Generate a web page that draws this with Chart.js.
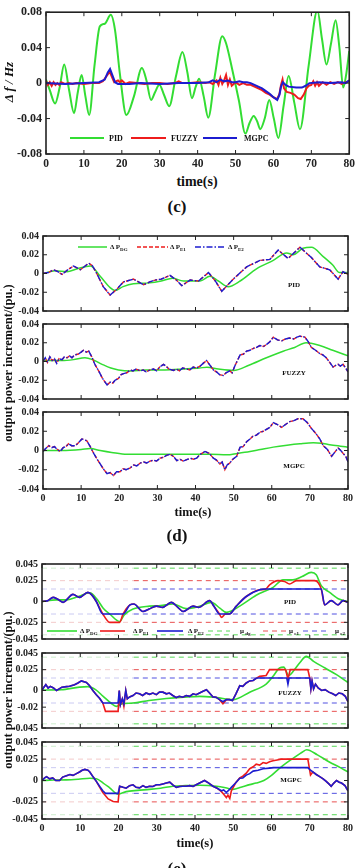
<!DOCTYPE html>
<html>
<head>
<meta charset="utf-8">
<script src="https://cdn.jsdelivr.net/npm/chart.js@4.4.0/dist/chart.umd.min.js"></script>
<style>
body { margin: 0; background: #fff; width: 358px; height: 868px; overflow: hidden; position: relative; font-family: 'Liberation Serif', serif; font-weight: bold; color: #111; }
canvas { position: absolute; left: 0; }
.t { position: absolute; transform: translate(-50%, -50%); white-space: nowrap; }
.l { position: absolute; transform: translateY(-50%); white-space: nowrap; font-size: 7px; }
.v { position: absolute; transform: translate(-50%, -50%) rotate(-90deg); white-space: nowrap; }
sub { font-size: 5px; vertical-align: -2px; }
svg { position: absolute; left: 0; top: 0; }
</style>
</head>
<body>
<canvas id="c1"></canvas>
<canvas id="d1"></canvas>
<canvas id="d2"></canvas>
<canvas id="d3"></canvas>
<canvas id="e1"></canvas>
<canvas id="e2"></canvas>
<canvas id="e3"></canvas>

<div class="v" style="left:9px;top:82px;font-size:13px;font-style:italic">Δ f / Hz</div>
<div class="t" style="left:197px;top:182px;font-size:14px">time(s)</div>
<div class="t" style="left:177px;top:207px;font-size:17px">(c)</div>
<div class="l" style="left:109px;top:138px;font-size:8px">PID</div>
<div class="l" style="left:171px;top:138px;font-size:8px">FUZZY</div>
<div class="l" style="left:244px;top:138px;font-size:8px">MGPC</div>

<div class="v" style="left:8px;top:363px;font-size:12.5px">output power increment/(pu.)</div>
<div class="t" style="left:193px;top:512px;font-size:12.5px">time(s)</div>
<div class="t" style="left:177px;top:536px;font-size:17px">(d)</div>
<div class="l" style="left:110px;top:247px">Δ P<sub>DG</sub></div>
<div class="l" style="left:170px;top:247px">Δ P<sub>E1</sub></div>
<div class="l" style="left:228px;top:247px">Δ P<sub>E2</sub></div>
<div class="t" style="left:294px;top:285px;font-size:7px">PID</div>
<div class="t" style="left:294px;top:373px;font-size:7px">FUZZY</div>
<div class="t" style="left:294px;top:466px;font-size:7px">MGPC</div>

<div class="v" style="left:8px;top:690px;font-size:12.5px">output power increment/(pu.)</div>
<div class="t" style="left:195px;top:843px;font-size:12.5px">time(s)</div>
<div class="t" style="left:177px;top:869px;font-size:17px">(e)</div>
<div class="l" style="left:80px;top:631px">Δ P<sub>DG</sub></div>
<div class="l" style="left:133px;top:631px">Δ P<sub>E1</sub></div>
<div class="l" style="left:188px;top:631px">Δ P<sub>E2</sub></div>
<div class="l" style="left:240px;top:631px">μ<sub> dg</sub></div>
<div class="l" style="left:289px;top:631px">μ<sub> e1</sub></div>
<div class="l" style="left:335px;top:631px">μ<sub> e2</sub></div>
<div class="t" style="left:290px;top:602px;font-size:7px">PID</div>
<div class="t" style="left:290px;top:693px;font-size:7px">FUZZY</div>
<div class="t" style="left:291px;top:780px;font-size:7px">MGPC</div>

<svg width="358" height="868">
  <line x1="70" y1="138" x2="104" y2="138" stroke="#33dd33" stroke-width="2"/>
  <line x1="131" y1="138" x2="166" y2="138" stroke="#ee1c1c" stroke-width="2"/>
  <line x1="203" y1="138" x2="237" y2="138" stroke="#1c1cd0" stroke-width="2"/>
  <line x1="78" y1="247" x2="107" y2="247" stroke="#33dd33" stroke-width="1.5"/>
  <line x1="137" y1="247" x2="168" y2="247" stroke="#ee1c1c" stroke-width="1.5" stroke-dasharray="4 2"/>
  <line x1="195" y1="247" x2="225" y2="247" stroke="#1c1cd0" stroke-width="1.5" stroke-dasharray="6 2 1.5 2"/>
  <line x1="47" y1="631" x2="77" y2="631" stroke="#33dd33" stroke-width="1.6"/>
  <line x1="100" y1="631" x2="125" y2="631" stroke="#ee1c1c" stroke-width="1.6"/>
  <line x1="157" y1="631" x2="183" y2="631" stroke="#1c1cd0" stroke-width="1.6"/>
  <line x1="208" y1="631" x2="230" y2="631" stroke="#55d855" stroke-width="1" stroke-dasharray="5 4"/>
  <line x1="263" y1="631" x2="287" y2="631" stroke="#e85050" stroke-width="1" stroke-dasharray="5 4"/>
  <line x1="303" y1="631" x2="330" y2="631" stroke="#5050e0" stroke-width="1" stroke-dasharray="5 4"/>
</svg>

<script>
// ---- panel (c): frequency deviation, [time, value]
const cPid = [[0,0.004],[1,-0.008],[2.4,-0.023],[3.6,-0.005],[4.8,0.021],[6.1,-0.008],[7.4,-0.034],[8.4,-0.01],[9.4,0.009],[10.4,-0.015],[11.4,-0.036],[12.8,0.02],[14.2,0.064],[15.5,0.067],[17.1,0.077],[18.2,0.06],[19.5,0.01],[21.2,-0.036],[23.2,-0.015],[25.3,0.017],[26.5,0.003],[27.7,-0.019],[28.8,-0.01],[29.9,-0.002],[31.2,-0.014],[32.5,-0.026],[34.3,0.008],[36,0.035],[37.3,0.012],[38.5,-0.017],[39.5,-0.004],[40.4,0.005],[41.6,-0.015],[42.8,-0.039],[44.6,0.01],[46.5,0.053],[47.5,0.045],[49.1,0.016],[50.9,-0.02],[52.6,-0.057],[53.7,-0.045],[54.8,-0.037],[55.7,-0.043],[56.5,-0.052],[57.7,-0.04],[58.9,-0.019],[60.1,-0.04],[61.3,-0.062],[62.7,-0.025],[64,0.008],[65.5,-0.022],[67,-0.052],[69.3,0.02],[71.6,0.082],[72.8,0.05],[74,0.021],[75.2,0.045],[76.4,0.071],[77.4,0.04],[78.4,-0.005],[79.2,0.01],[80,0.036]];
const cFuzzy = [[0,0.002],[0.5,-0.002],[1,0.001],[1.5,-0.003],[2,0.001],[2.5,-0.002],[3,0],[3.5,-0.002],[4,0.001],[5,-0.001],[6,0],[7,-0.001],[8,0],[10,-0.001],[12,0],[14,0],[15,0.002],[16,0.008],[16.8,0.013],[17.5,0.006],[18,0.001],[19,0.003],[19.5,0.001],[20,0.003],[21,-0.001],[22,0.001],[24,0],[26,-0.001],[28,0],[30,0],[32,-0.001],[34,0],[35,0.002],[36,0],[38,0],[40,0.001],[42,0],[43,0.001],[44,-0.001],[45,0.003],[45.5,-0.002],[46,0.006],[46.5,-0.001],[47,0.003],[47.5,0.009],[48,-0.002],[48.5,0.004],[49,-0.003],[50,0.001],[51,-0.002],[52,0],[53,-0.002],[54,-0.002],[55,-0.004],[56,-0.006],[57,-0.008],[58,-0.011],[59,-0.013],[60,-0.016],[61,-0.018],[61.6,-0.012],[62,-0.002],[62.4,0.004],[62.8,-0.006],[63.5,-0.01],[64.5,-0.011],[65.5,-0.013],[66.5,-0.017],[67.2,-0.018],[68,-0.013],[68.7,-0.006],[69.3,-0.003],[70,-0.002],[70.5,0.002],[71,-0.003],[71.5,0.001],[72,-0.003],[73,0.001],[74,-0.002],[75,0.001],[76,-0.001],[77,0.001],[78,-0.001],[79,0.001],[80,0.002]];
const cMgpc = [[0,0],[5,-0.001],[10,0],[14,0.001],[15.5,0.004],[16.3,0.012],[16.9,0.016],[17.5,0.009],[18.2,0.001],[19,-0.001],[22,-0.001],[25,0],[30,-0.001],[35,0],[40,0],[43,0.001],[44,0.003],[45,0.001],[46,0.004],[47,0.002],[48,0.003],[49,0.001],[50,0.001],[51,0.002],[52,0.001],[53,0.001],[54,0],[55,-0.002],[56,-0.004],[57,-0.006],[58,-0.009],[59,-0.012],[60,-0.016],[61,-0.019],[61.6,-0.013],[62,-0.004],[62.5,0.001],[63.2,-0.002],[64,-0.004],[66,-0.005],[67.5,-0.005],[68.5,-0.003],[69.5,0],[72,0.001],[75,0],[78,0.001],[79,0],[80,0.003]];
const cYTicks = [-0.08, -0.04, 0, 0.04, 0.08];

// ---- panel (d): output power increments
const d1Dg = [[0,0],[3.2,0.003],[6.3,0.002],[9,0.005],[12.4,0.008],[15,-0.003],[17.6,-0.015],[18.9,-0.018],[21,-0.014],[23.7,-0.011],[28,-0.01],[31,-0.008],[34,-0.005],[36.8,-0.008],[41.2,-0.008],[43.8,-0.003],[46,-0.008],[48.6,-0.014],[51.7,-0.008],[56,0.005],[60.4,0.014],[63.9,0.022],[65.6,0.02],[68.2,0.027],[70.4,0.028],[73.5,0.018],[76,0.009],[77.8,0.001],[80,0.001]];
const d1E = [[0,0],[1.4,0.001],[2.8,0.004],[3.9,0.002],[5,-0.001],[6.5,0.004],[8,0.008],[9.8,0.004],[12,0.011],[13,0.008],[14.1,0],[15.8,-0.014],[17.6,-0.023],[19.3,-0.017],[21.1,-0.009],[23.7,-0.006],[26.4,-0.012],[28,-0.009],[29.4,-0.007],[31,-0.006],[33.3,-0.002],[35,-0.007],[36.4,-0.013],[38.6,-0.007],[40.8,-0.008],[43.4,0.001],[45.2,-0.008],[46.9,-0.019],[49.9,-0.006],[53.4,0.007],[56.9,0.014],[59.5,0.015],[61.7,0.025],[64.3,0.016],[67.4,0.028],[70.4,0.017],[72.6,0.007],[75.2,0.004],[77.4,-0.006],[78.7,0.002],[80,-0.001]];
const d2Dg = [[0,0.001],[5,0.001],[8,0.002],[11,0.004],[13,0.002],[15.5,-0.003],[17.8,-0.007],[19.8,-0.009],[23,-0.01],[27,-0.009],[32,-0.009],[37,-0.008],[41,-0.007],[43,-0.006],[46,-0.008],[50,-0.0095],[54,-0.004],[58.6,0.004],[63,0.011],[66,0.015],[69,0.02],[72.6,0.017],[76,0.012],[80,0.006]];
const d2E = [[0,0],[0.6,0.004],[1.2,-0.001],[1.8,0.005],[2.4,0.001],[3,0.003],[3.6,-0.002],[4.2,0.003],[5,0.002],[5.6,0.005],[6.3,0.004],[7,0.006],[7.6,0.004],[8.3,0.007],[9.3,0.008],[10,0.01],[10.6,0.012],[11.4,0.01],[12,0.011],[12.8,0.005],[13.6,-0.003],[14.6,-0.01],[15.6,-0.018],[16.8,-0.025],[17.6,-0.022],[18.3,-0.023],[18.9,-0.02],[19.8,-0.018],[20.5,-0.014],[21.1,-0.013],[22,-0.012],[22.9,-0.009],[23.6,-0.01],[24.4,-0.008],[25.5,-0.01],[26.3,-0.009],[27,-0.011],[28.1,-0.009],[29,-0.008],[29.8,-0.01],[30.6,-0.006],[31.6,-0.003],[32.3,-0.005],[33,-0.008],[34.2,-0.0095],[35,-0.008],[35.8,-0.01],[36.6,-0.007],[37.7,-0.008],[38.5,-0.009],[39.4,-0.006],[40.3,-0.007],[41.2,-0.005],[42,-0.002],[42.9,0.001],[43.8,-0.004],[44.7,-0.009],[45.5,-0.011],[46.3,-0.014],[47.3,-0.015],[48,-0.012],[49,-0.01],[49.6,-0.012],[50.4,-0.004],[51.7,0.007],[52.6,0.008],[53.4,0.011],[54.3,0.012],[55.2,0.014],[56,0.015],[56.9,0.017],[57.8,0.016],[58.6,0.018],[59.5,0.021],[60.4,0.026],[61.5,0.023],[62.6,0.022],[63.6,0.024],[64.7,0.025],[65.8,0.024],[66.6,0.026],[67.4,0.027],[68.7,0.026],[69.6,0.021],[70.4,0.015],[71.5,0.012],[72.6,0.0085],[73.4,0.007],[74.3,0.004],[75.2,-0.001],[76.1,-0.006],[76.8,-0.004],[77.4,-0.003],[78,-0.005],[78.7,-0.003],[79.4,-0.007],[80,-0.011]];
const d3Dg = [[0,0],[5,0],[10,0.001],[12.4,0.002],[15,0],[18,-0.002],[22,-0.004],[30,-0.004],[40,-0.004],[44,-0.004],[48.2,-0.0045],[51,-0.003],[54.3,-0.001],[57,0.001],[60.4,0.0035],[64,0.0055],[67.4,0.007],[70.9,0.008],[73,0.0075],[75.2,0.006],[78,0.0045],[80,0.0035]];
const d3E = [[0,-0.001],[0.7,0.002],[1.5,0.005],[2.3,0.003],[3,0.004],[3.8,0.001],[4.5,-0.001],[5.3,0.003],[6,0.004],[6.7,0.007],[7.5,0.005],[8.5,0.005],[9.3,0.008],[10.2,0.012],[11,0.011],[11.5,0.01],[12.4,0.004],[13.3,-0.003],[14.2,-0.009],[15,-0.014],[16,-0.02],[16.8,-0.024],[17.6,-0.023],[18.5,-0.026],[19.3,-0.022],[20.2,-0.022],[21,-0.019],[21.8,-0.02],[22.9,-0.018],[23.8,-0.015],[24.6,-0.016],[25.5,-0.013],[26.4,-0.012],[27.2,-0.013],[28.1,-0.011],[29,-0.01],[29.8,-0.011],[30.7,-0.008],[31.6,-0.007],[32.4,-0.005],[33.3,-0.004],[34.2,-0.006],[35.1,-0.0105],[35.9,-0.009],[36.8,-0.011],[37.7,-0.0095],[38.6,-0.008],[39.5,-0.009],[40.3,-0.008],[41.2,-0.004],[42.5,-0.001],[43.6,-0.003],[44.7,-0.008],[45.5,-0.01],[46.4,-0.014],[47,-0.012],[47.7,-0.02],[48.3,-0.015],[49,-0.013],[49.8,-0.009],[50.8,-0.006],[51.7,0.0035],[52.5,0.004],[53.4,0.009],[54.3,0.012],[55.1,0.015],[56,0.016],[56.9,0.019],[57.8,0.02],[58.6,0.022],[59.5,0.024],[60.4,0.029],[61.5,0.027],[62.6,0.024],[63.6,0.027],[64.7,0.03],[65.8,0.031],[66.9,0.033],[68.2,0.033],[69.3,0.029],[70.4,0.023],[71.5,0.018],[72.6,0.012],[73.5,0.005],[74.6,0.001],[75.7,-0.006],[76.5,-0.002],[77.4,0.0026],[78.1,0],[78.7,-0.003],[79.4,-0.006],[80,-0.012]];
const dYTicks = [-0.04, -0.02, 0, 0.02, 0.04];

// ---- panel (e): output power increments with limits
const e1Dg = [[0,0],[3.7,0.002],[6.5,0.002],[9.5,0.006],[12.5,0.0105],[14.5,0.002],[16,-0.008],[17.7,-0.015],[20.3,-0.024],[21.5,-0.016],[23.8,-0.009],[28.1,-0.0056],[31,-0.005],[34.2,-0.003],[37.7,-0.0086],[41.2,-0.0056],[44.3,-0.001],[46.5,-0.008],[48.2,-0.013],[51.7,-0.0056],[56,0.0075],[60.4,0.017],[63,0.026],[65.6,0.026],[68,0.03],[70.4,0.035],[71.7,0.032],[73,0.019],[75.2,0.011],[77.8,0.0026],[80,0]];
const e1E1 = [[0,0],[1.5,0.001],[2.9,0.005],[4,0.003],[5.5,-0.001],[8.1,0.0086],[9.8,0.005],[12,0.011],[13,0.008],[14.2,0],[15.9,-0.015],[17.7,-0.025],[20.3,-0.025],[21.2,-0.015],[23,-0.004],[24,-0.003],[26.4,-0.012],[28,-0.009],[29.9,-0.0056],[31.5,-0.007],[33.8,-0.001],[35.5,-0.007],[36.9,-0.012],[39.5,-0.0056],[41,-0.007],[43.8,0.001],[45,-0.006],[46.4,-0.015],[46.9,-0.019],[48,-0.015],[49,-0.015],[50.8,-0.0056],[53.4,0.006],[56.9,0.014],[58.5,0.015],[59.5,0.02],[61.7,0.025],[63.4,0.024],[64.7,0.021],[66.5,0.025],[71.3,0.025],[73,0.015],[73.9,-0.004],[75.6,0.001],[77.4,-0.004],[78.7,0.001],[80,-0.001]];
const e1E2 = [[0,0],[1.5,0.001],[2.9,0.005],[4,0.003],[5.5,-0.001],[8.1,0.0086],[9.8,0.005],[12,0.011],[13,0.008],[14.2,0],[15.9,-0.015],[21.2,-0.015],[23,-0.004],[24,-0.003],[26.4,-0.012],[28,-0.009],[29.9,-0.0056],[31.5,-0.007],[33.8,-0.001],[35.5,-0.007],[36.9,-0.012],[39.5,-0.0056],[41,-0.007],[43.8,0.001],[45,-0.006],[46.4,-0.015],[49,-0.015],[50.8,-0.0056],[53.4,0.006],[56.9,0.014],[58.5,0.015],[73,0.015],[73.9,-0.004],[75.6,0.001],[77.4,-0.004],[78.7,0.001],[80,-0.001]];
const e2Dg = [[0,0.0005],[5,0.001],[9.8,0.004],[12,0.0046],[14,0.001],[16,-0.007],[18,-0.015],[19.4,-0.019],[21,-0.016],[23.8,-0.015],[28,-0.012],[32.5,-0.0096],[37,-0.008],[41.2,-0.007],[45.6,-0.0085],[49.9,-0.011],[54.3,-0.002],[58.6,0.0077],[60.4,0.017],[62.1,0.027],[63.2,0.028],[64.5,0.018],[66,0.025],[67.5,0.034],[69.1,0.041],[71,0.035],[74,0.027],[77,0.019],[80,0.0096]];
const e2E1 = [[0,0],[0.5,0.004],[1,0.007],[1.6,0.003],[2.2,0.005],[3,0.003],[3.8,0],[4.5,0.002],[5.2,0.004],[6.4,0.0046],[7.2,0.005],[8.5,0.007],[9.4,0.009],[10.3,0.0115],[11.6,0.0096],[12.4,0.006],[13.3,0],[14.2,-0.005],[15.1,-0.0096],[15.9,-0.015],[16.6,-0.025],[19.9,-0.025],[20.2,0],[20.5,-0.017],[21,-0.01],[21.4,-0.019],[21.9,0],[22.3,-0.01],[22.9,-0.0077],[23.8,-0.006],[24.6,-0.003],[25.5,-0.004],[26.3,-0.006],[27.2,-0.003],[28.1,-0.0046],[29,-0.003],[29.9,-0.005],[30.7,-0.002],[31.6,-0.002],[32.5,-0.004],[33.3,-0.003],[34.2,-0.006],[35.1,-0.0085],[35.9,-0.007],[36.8,-0.008],[37.7,-0.006],[38.6,-0.007],[39.5,-0.004],[40.3,-0.005],[41.2,-0.003],[42.1,-0.001],[43,0.001],[43.8,-0.003],[44.7,-0.0077],[45.5,-0.008],[46.4,-0.011],[47.3,-0.016],[48.2,-0.011],[49,-0.011],[49.8,-0.012],[50.7,-0.004],[51.7,0.0058],[52.5,0.005],[53.4,0.009],[54.3,0.0115],[55.2,0.012],[56,0.0146],[56.9,0.017],[58.6,0.018],[59.5,0.025],[63.7,0.025],[64.3,0.0135],[64.9,0.025],[69.5,0.025],[70,0.015],[70.3,0.002],[70.6,0.0115],[71,0.002],[71.5,0.0077],[72.2,0.003],[73.1,0],[74,0.001],[75,-0.002],[76,-0.004],[76.8,-0.006],[77.6,-0.003],[78.5,-0.004],[79.3,-0.007],[80,-0.0135]];
const e2E2 = [[0,0],[0.5,0.004],[1,0.007],[1.6,0.003],[2.2,0.005],[3,0.003],[3.8,0],[4.5,0.002],[5.2,0.004],[6.4,0.0046],[7.2,0.005],[8.5,0.007],[9.4,0.009],[10.3,0.0115],[11.6,0.0096],[12.4,0.006],[13.3,0],[14.2,-0.005],[15.1,-0.0096],[15.9,-0.015],[19.9,-0.015],[20.2,0],[20.5,-0.017],[21,-0.01],[21.4,-0.016],[21.9,0],[22.3,-0.01],[22.9,-0.0077],[23.8,-0.006],[24.6,-0.003],[25.5,-0.004],[26.3,-0.006],[27.2,-0.003],[28.1,-0.0046],[29,-0.003],[29.9,-0.005],[30.7,-0.002],[31.6,-0.002],[32.5,-0.004],[33.3,-0.003],[34.2,-0.006],[35.1,-0.0085],[35.9,-0.007],[36.8,-0.008],[37.7,-0.006],[38.6,-0.007],[39.5,-0.004],[40.3,-0.005],[41.2,-0.003],[42.1,-0.001],[43,0.001],[43.8,-0.003],[44.7,-0.0077],[45.5,-0.008],[46.4,-0.011],[47.3,-0.0135],[48.2,-0.011],[49,-0.011],[49.8,-0.012],[50.7,-0.004],[51.7,0.0058],[52.5,0.005],[53.4,0.009],[54.3,0.0115],[55.2,0.012],[56,0.0146],[56.5,0.015],[64,0.015],[64.3,0.0077],[64.6,0.015],[70,0.015],[70.3,0.002],[70.6,0.0115],[71,0.002],[71.5,0.0077],[72.2,0.003],[73.1,0],[74,0.001],[75,-0.002],[76,-0.004],[76.8,-0.006],[77.6,-0.003],[78.5,-0.004],[79.3,-0.007],[80,-0.0135]];
const e3Dg = [[0,0],[3,0.0005],[6.4,0.0007],[9.5,0.0015],[12.5,0.0026],[14.2,0.002],[16,-0.003],[17.7,-0.0086],[19.9,-0.016],[22,-0.013],[25,-0.0115],[28.1,-0.0104],[31,-0.009],[34.2,-0.0067],[37.5,-0.006],[41.2,-0.0056],[45.6,-0.0067],[48,-0.0085],[49.9,-0.0104],[52,-0.008],[54.3,-0.0048],[56,-0.003],[58,0],[60,0.006],[62,0.014],[64,0.021],[66,0.027],[68,0.033],[69.2,0.036],[72,0.03],[75,0.022],[78,0.015],[80,0.01]];
const e3E1 = [[0,0],[0.7,0.003],[1.2,0.0045],[2,0.002],[2.8,0.003],[3.6,0],[4.6,0],[5.4,0.004],[6.4,0.0056],[7.3,0.007],[8.1,0.006],[9,0.008],[9.8,0.01],[10.5,0.012],[11.2,0.013],[12,0.012],[12.5,0.01],[13.4,0.004],[14.2,-0.001],[15.1,-0.008],[15.9,-0.014],[17.3,-0.0216],[18.6,-0.0246],[19.9,-0.025],[20.3,-0.0067],[21.2,-0.008],[22,-0.009],[22.9,-0.006],[23.8,-0.005],[24.6,-0.008],[25.5,-0.0086],[26.4,-0.006],[27.2,-0.008],[28.1,-0.0067],[29,-0.007],[29.9,-0.005],[30.8,-0.005],[31.6,-0.004],[32.5,-0.003],[33.4,-0.002],[34.2,-0.005],[35.1,-0.008],[36,-0.007],[36.8,-0.0067],[37.7,-0.0067],[38.6,-0.006],[39.5,-0.007],[40.3,-0.005],[41.2,-0.003],[42.5,0],[43.6,-0.003],[44.7,-0.0067],[45.8,-0.009],[46.9,-0.013],[47.5,-0.016],[48.2,-0.02],[48.6,-0.017],[49.1,-0.021],[49.5,-0.012],[50.6,-0.003],[51.7,0.003],[52.5,0.005],[53.4,0.0085],[54.3,0.0138],[55.2,0.016],[56,0.019],[56.9,0.018],[57.8,0.021],[58.6,0.02],[59.5,0.022],[60.4,0.023],[61.5,0.024],[62.5,0.025],[69.5,0.025],[70.2,0.0064],[70.8,0.01],[71.7,0.007],[72.6,0.0045],[73.5,0.002],[74.3,-0.001],[75,-0.004],[75.6,-0.0067],[76.3,-0.003],[77,0],[77.7,-0.002],[78.3,-0.003],[79.2,-0.006],[80,-0.012]];
const e3E2 = [[0,0],[0.7,0.003],[1.2,0.0045],[2,0.002],[2.8,0.003],[3.6,0],[4.6,0],[5.4,0.004],[6.4,0.0056],[7.3,0.007],[8.1,0.006],[9,0.008],[9.8,0.01],[10.5,0.012],[11.2,0.013],[12,0.012],[12.5,0.01],[13.4,0.004],[14.2,-0.001],[15.1,-0.007],[15.9,-0.012],[16.6,-0.015],[19.9,-0.015],[20.3,-0.0067],[21.2,-0.008],[22,-0.009],[22.9,-0.006],[23.8,-0.005],[24.6,-0.008],[25.5,-0.0086],[26.4,-0.006],[27.2,-0.008],[28.1,-0.0067],[29,-0.007],[29.9,-0.005],[30.8,-0.005],[31.6,-0.004],[32.5,-0.003],[33.4,-0.002],[34.2,-0.005],[35.1,-0.008],[36,-0.007],[36.8,-0.0067],[37.7,-0.0067],[38.6,-0.006],[39.5,-0.007],[40.3,-0.005],[41.2,-0.003],[42.5,0],[43.6,-0.003],[44.7,-0.0067],[45.8,-0.009],[46.9,-0.012],[47.5,-0.011],[48.2,-0.014],[48.9,-0.011],[49.5,-0.008],[50.6,-0.003],[51.7,0.0026],[52.5,0.003],[53.4,0.0063],[54.3,0.008],[55.2,0.011],[56.5,0.012],[57.8,0.0138],[59.5,0.0145],[60.5,0.015],[69.5,0.015],[70.2,0.012],[70.8,0.01],[71.7,0.007],[72.6,0.0045],[73.5,0.002],[74.3,-0.001],[75,-0.004],[75.6,-0.0067],[76.3,-0.003],[77,0],[77.7,-0.002],[78.3,-0.003],[79.2,-0.006],[80,-0.012]];
const limitTimes = [0, 24, 80];     // faint before 24 s, solid after
const limitDg = 0.04, limitE1 = 0.025, limitE2 = 0.015;
const eYTicks = [-0.045, -0.025, 0, 0.025, 0.045];
const e2YTicks = [-0.045, -0.02, 0, 0.025, 0.045];
const xTicks = [0, 10, 20, 30, 40, 50, 60, 70, 80];

const GREEN = '#33dd33', RED = '#ee1c1c', BLUE = '#1c1cd0';
const FONT = 'Liberation Serif';

const pts = (s) => s.map(p => ({ x: p[0], y: p[1] }));

function curve(series, color, width, opts) {
    return Object.assign({
        data: pts(series),
        borderColor: color,
        borderWidth: width,
        pointRadius: 0,
        fill: false,
        tension: 0
    }, opts || {});
}

function limit(value, strong, faint) {
    return {
        data: limitTimes.map(t => ({ x: t, y: value })),
        borderWidth: 1,
        borderDash: [5, 4],
        pointRadius: 0,
        order: 9,
        segment: { borderColor: c => c.p0DataIndex === 0 ? faint : strong }
    };
}

function limits() {
    return [
        limit(limitDg, '#55d855', '#cdeecd'), limit(-limitDg, '#55d855', '#cdeecd'),
        limit(limitE1, '#e85050', '#f3caca'), limit(-limitE1, '#e85050', '#f3caca'),
        limit(limitE2, '#5050e0', '#cacaf2'), limit(-limitE2, '#5050e0', '#cacaf2')
    ];
}

// box with inward tick marks on every side
const frame = {
    id: 'frame',
    afterDraw(chart) {
        const { ctx, chartArea: a, scales: { x, y } } = chart;
        ctx.save();
        ctx.strokeStyle = '#222';
        ctx.lineWidth = 1;
        ctx.beginPath();
        x.ticks.forEach(t => {
            const px = x.getPixelForValue(t.value);
            ctx.moveTo(px, a.bottom); ctx.lineTo(px, a.bottom - 4);
            ctx.moveTo(px, a.top); ctx.lineTo(px, a.top + 4);
        });
        y.ticks.forEach(t => {
            const py = y.getPixelForValue(t.value);
            ctx.moveTo(a.left, py); ctx.lineTo(a.left + 4, py);
            ctx.moveTo(a.right, py); ctx.lineTo(a.right - 4, py);
        });
        ctx.stroke();
        ctx.lineWidth = 1.6;
        ctx.strokeRect(a.left, a.top, a.right - a.left, a.bottom - a.top);
        ctx.restore();
    }
};

function panel(id, box, yTicks, showX, fs, datasets) {
    const padT = 8, xh = showX ? 18 : 0, padB = showX ? 0 : 8;
    const cv = document.getElementById(id);
    cv.width = 358;
    cv.height = (box.bottom - box.top) + padT + xh + padB;
    cv.style.top = (box.top - padT) + 'px';
    return new Chart(cv, {
        type: 'line',
        data: { datasets: datasets },
        options: {
            responsive: false,
            animation: false,
            layout: { padding: { top: padT, bottom: padB, left: 0, right: 358 - box.right } },
            plugins: { legend: { display: false }, tooltip: { enabled: false } },
            scales: {
                x: {
                    type: 'linear', min: 0, max: 80,
                    afterBuildTicks: s => { s.ticks = xTicks.map(v => ({ value: v })); },
                    ticks: { display: showX, padding: 3, color: '#222', font: { family: FONT, weight: 'bold', size: fs.x } },
                    grid: { display: false, drawTicks: false },
                    border: { display: false },
                    afterFit: s => { s.height = xh; }
                },
                y: {
                    type: 'linear', min: yTicks[0], max: yTicks[yTicks.length - 1],
                    afterBuildTicks: s => { s.ticks = yTicks.map(v => ({ value: v })); },
                    ticks: { callback: v => String(v), padding: 4, color: '#222', font: { family: FONT, weight: 'bold', size: fs.y } },
                    grid: { display: false, drawTicks: false },
                    border: { display: false },
                    afterFit: s => { s.width = box.left; }
                }
            }
        },
        plugins: [frame]
    });
}

const smooth = { cubicInterpolationMode: 'monotone' };
const fsC = { x: 11.5, y: 12 }, fsD = { x: 10, y: 10 };

panel('c1', { left: 46, right: 351, top: 9, bottom: 154 }, cYTicks, true, fsC, [
    curve(cMgpc, BLUE, 2, { order: 1 }),
    curve(cFuzzy, RED, 2, { order: 2 }),
    curve(cPid, GREEN, 2, Object.assign({ order: 3 }, smooth))
]);

function dPanel(id, top, showX, dg, e) {
    return panel(id, { left: 43, right: 348, top: top, bottom: top + 79 }, dYTicks, showX, fsD, [
        curve(e, BLUE, 1.4, { order: 1, borderDash: [6, 2, 1.5, 2] }),
        curve(e, RED, 1.4, { order: 2, borderDash: [4, 2] }),
        curve(dg, GREEN, 1.5, Object.assign({ order: 3 }, smooth))
    ]);
}
dPanel('d1', 234, false, d1Dg, d1E);
dPanel('d2', 322, false, d2Dg, d2E);
dPanel('d3', 410, true, d3Dg, d3E);

function ePanel(id, top, ticks, showX, dg, e1, e2, s) {
    return panel(id, { left: 42, right: 348, top: top, bottom: top + 79 }, ticks, showX, fsD, [
        curve(e2, BLUE, 1.6, Object.assign({ order: 1 }, s)),
        curve(e1, RED, 1.6, Object.assign({ order: 2 }, s)),
        curve(dg, GREEN, 1.6, Object.assign({ order: 3 }, smooth))
    ].concat(limits()));
}
ePanel('e1', 562, eYTicks, false, e1Dg, e1E1, e1E2, smooth);
ePanel('e2', 651, e2YTicks, false, e2Dg, e2E1, e2E2, {});
ePanel('e3', 740, eYTicks, true, e3Dg, e3E1, e3E2, {});
</script>
</body>
</html>
